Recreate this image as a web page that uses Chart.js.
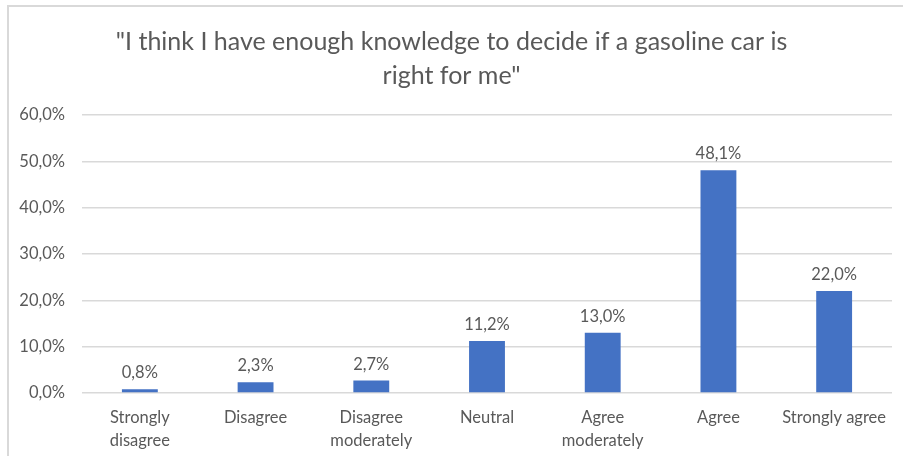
<!DOCTYPE html>
<html>
<head>
<meta charset="utf-8">
<script src="https://cdn.jsdelivr.net/npm/chart.js@4/dist/chart.umd.min.js"></script>
<style>
    html, body { margin: 0; padding: 0; background: #fff; }
    #marco {
        position: absolute; left: 7px; top: 5px; width: 900px; height: 460px;
        border-left: 2px solid #d9d9d9; border-top: 2px solid #d9d9d9;
    }
    #contenedor { position: absolute; left: 0; top: 0; width: 903px; height: 456px; }
</style>
</head>
<body>
<div id="marco"></div>
<div id="contenedor"><canvas id="grafico"></canvas></div>
<script>
const categorias = [
    ['Strongly', 'disagree'],
    'Disagree',
    ['Disagree', 'moderately'],
    'Neutral',
    ['Agree', 'moderately'],
    'Agree',
    'Strongly agree'
];
const porcentajes = [0.8, 2.3, 2.7, 11.2, 13.0, 48.1, 22.0];
const titulo = ['"I think I have enough knowledge to decide if a gasoline car is', 'right for me"'];

const FUENTE = 'Lato, "Open Sans", sans-serif';
const GRIS = '#595959';

function formatoPorcentaje(v) {
    return v.toFixed(1).replace('.', ',') + '%';
}

// etiquetas de valor encima de cada barra
const etiquetasBarras = {
    id: 'etiquetasBarras',
    afterDatasetsDraw(chart) {
        const ctx = chart.ctx;
        const meta = chart.getDatasetMeta(0);
        ctx.save();
        ctx.font = '16.5px ' + FUENTE;
        ctx.fillStyle = GRIS;
        ctx.textAlign = 'center';
        ctx.textBaseline = 'bottom';
        meta.data.forEach(function(barra, i) {
            ctx.fillText(formatoPorcentaje(porcentajes[i]), barra.x, barra.y - 8);
        });
        ctx.restore();
    }
};

const ctx = document.getElementById('grafico').getContext('2d');
new Chart(ctx, {
    type: 'bar',
    data: {
        labels: categorias,
        datasets: [{
            data: porcentajes,
            backgroundColor: '#4472C4',
            barPercentage: 0.62,
            categoryPercentage: 0.5
        }]
    },
    options: {
        responsive: true,
        maintainAspectRatio: false,
        animation: false,
        layout: { padding: { left: 11, right: 11, top: 0, bottom: 0 } },
        plugins: {
            legend: { display: false },
            tooltip: { enabled: false },
            title: {
                display: true,
                text: titulo,
                color: GRIS,
                font: { family: FUENTE, size: 25, weight: 'normal', lineHeight: 1.36 },
                padding: { top: 25, bottom: 22 }
            }
        },
        scales: {
            x: {
                grid: { display: false, drawTicks: false },
                border: { display: false },
                ticks: {
                    color: GRIS,
                    font: { family: FUENTE, size: 16.5, lineHeight: 1.35 },
                    padding: 14,
                    maxRotation: 0,
                    autoSkip: false
                },
                afterFit: function(escala) { escala.height = 63; }
            },
            y: {
                min: 0,
                max: 60,
                grid: { color: '#d9d9d9', lineWidth: 1.5, drawTicks: false },
                border: { display: false },
                ticks: {
                    stepSize: 10,
                    color: GRIS,
                    font: { family: FUENTE, size: 16.5 },
                    padding: 17,
                    callback: function(v) { return formatoPorcentaje(v); }
                },
                afterFit: function(escala) { escala.width = 71; }
            }
        }
    },
    plugins: [etiquetasBarras]
});
</script>
</body>
</html>
